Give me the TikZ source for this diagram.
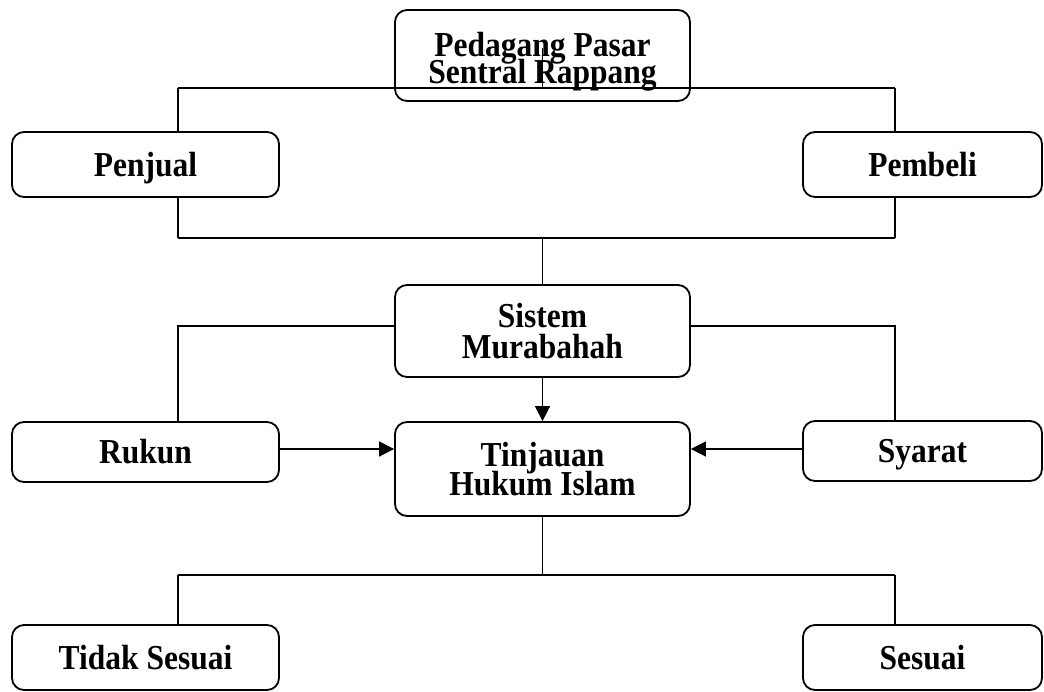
\documentclass[tikz,border=0pt]{standalone}
\usepackage{fontspec}
\setmainfont{Liberation Serif}[FakeStretch=0.9]
\usetikzlibrary{arrows.meta,positioning}
\newcommand\tightlead{\setlength{\lineskiplimit}{-50pt}}

\begin{document}
\begin{tikzpicture}[x=1pt, y=-1pt]
  % Styles
  \tikzstyle{box} = [rectangle, rounded corners=12pt, draw=black, line width=1.8pt, fill=white, align=center, inner sep=0pt, font=\fontsize{35}{28}\selectfont\bfseries\tightlead]
  \tikzstyle{single} = [text height=30pt, text depth=7pt]
  \tikzstyle{link} = [line width=1.6pt, color=black]
  \tikzstyle{flow} = [line width=1.6pt, color=black, -{Triangle[length=15pt,width=15pt]}]

  \useasboundingbox (0,0) rectangle (1044,691);
  \clip (0,0) rectangle (1044,691);

  % Boxes
  \node[box, minimum width=295pt, minimum height=91pt, font=\fontsize{35}{27}\selectfont\bfseries\tightlead] (pedagang) at (542.5, 55.5) {\rule{0pt}{36pt}Pedagang Pasar\\Sentral Rappang};
  \node[box, single, minimum width=267pt, minimum height=65pt] (penjual) at (145.5, 164.5) {Penjual};
  \node[box, single, minimum width=239pt, minimum height=65pt] (pembeli) at (922.5, 164.5) {Pembeli};
  \node[box, minimum width=295pt, minimum height=92pt, font=\fontsize{35}{31}\selectfont\bfseries\tightlead] (sistem) at (542.5, 331) {Sistem\\Murabahah};
  \node[box, single, minimum width=267pt, minimum height=60pt] (rukun) at (145.5, 452) {Rukun};
  \node[box, minimum width=295pt, minimum height=94pt, font=\fontsize{35}{29}\selectfont\bfseries\tightlead] (tinjauan) at (542.5, 469) {Tinjauan\\Hukum Islam};
  \node[box, single, minimum width=239pt, minimum height=60pt] (syarat) at (922.5, 451) {Syarat};
  \node[box, single, minimum width=267pt, minimum height=65pt] (tidak) at (145.5, 657.5) {Tidak Sesuai};
  \node[box, single, minimum width=239pt, minimum height=65pt] (sesuai) at (922.5, 657.5) {Sesuai};

  % Bus junctions
  \coordinate (topL) at (178, 88);
  \coordinate (topR) at (895, 88);
  \coordinate (midL) at (178, 238);
  \coordinate (midR) at (895, 238);
  \coordinate (lowL) at (178, 575);
  \coordinate (lowR) at (895, 575);

  % Top bus
  \draw[link] (topL) -- (topR);
  \draw[link] ([yshift=7.5pt]pedagang.center) -- (pedagang.center |- topL);
  \draw[link] (topL) -- (topL |- penjual.north);
  \draw[link] (topR) -- (topR |- pembeli.north);
  \draw[link] (midL |- penjual.south) -- (midL);
  \draw[link] (midR |- pembeli.south) -- (midR);
  \draw[link] (midL) -- (midR);
  \draw[link] (sistem.north |- midL) -- (sistem.north);

  % Sistem to Rukun / Syarat
  \draw[link] ([yshift=5pt]sistem.west) -| (midL |- rukun.north);
  \draw[link] ([yshift=5pt]sistem.east) -| (midR |- syarat.north);

  % Arrows into Tinjauan
  \draw[flow] (sistem.south) -- (tinjauan.north);
  \draw[flow] ([yshift=3pt]rukun.east) -- ([yshift=3pt]rukun.east -| tinjauan.west);
  \draw[flow] ([yshift=2pt]syarat.west) -- ([yshift=2pt]syarat.west -| tinjauan.east);

  % Lower bus
  \draw[link] (tinjauan.south) -- (tinjauan.south |- lowL);
  \draw[link] (lowL) -- (lowR);
  \draw[link] (lowL) -- (lowL |- tidak.north);
  \draw[link] (lowR) -- (lowR |- sesuai.north);

\end{tikzpicture}
\end{document}
